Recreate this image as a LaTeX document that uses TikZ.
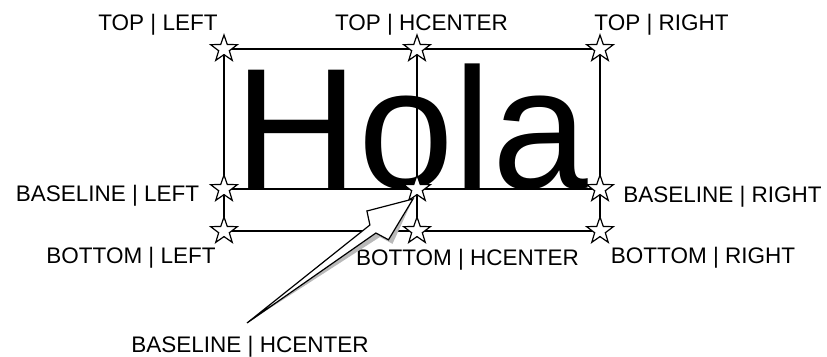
\documentclass[tikz,border=0pt]{standalone}
\usepackage{fontspec}
\setmainfont{Liberation Sans}
\usetikzlibrary{shapes.geometric}
\begin{document}
\begin{tikzpicture}[x=1pt,y=-1pt,
  boxline/.style={line width=1.2pt, black},
  corner/.style={star, star points=5, star point ratio=2.5, minimum size=28pt,
    inner sep=0pt, draw=black, fill=white, line width=1.2pt},
  lbl/.style={anchor=base, inner sep=0pt, font=\fontsize{22.5}{27}\selectfont},
  bigtext/.style={anchor=base, inner sep=0pt, font=\fontsize{172}{200}\selectfont}]
\useasboundingbox (0,0) rectangle (827,356);
% reference points
\coordinate (TL) at (224,49);
\coordinate (TC) at (417,49);
\coordinate (TR) at (600,49);
\coordinate (BL) at (224,189);
\coordinate (BC) at (417,189);
\coordinate (BR) at (600,189);
\coordinate (OL) at (224,231);
\coordinate (OC) at (417,231);
\coordinate (OR) at (600,231);
% text
\node[bigtext] (hola) at (411,188) {Hola};
% box lines
\draw[boxline] (TL) -- (TR);
\draw[boxline] (BL) -- (BR);
\draw[boxline] (OL) -- (OR);
\draw[boxline] (TL) -- (OL);
\draw[boxline] (TC) -- (OC);
\draw[boxline] (TR) -- (OR);
% stars
\foreach \p in {TL,TC,TR,BL,BC,BR,OL,OC,OR}
  \node[corner] (s\p) at (\p) {};
% labels
\node[lbl] (lTL) at (158,30) {TOP | LEFT};
\node[lbl] (lTC) at (421.5,30) {TOP | HCENTER};
\node[lbl] (lTR) at (661.5,30) {TOP | RIGHT};
\node[lbl] (lBL) at (107.5,201) {BASELINE | LEFT};
\node[lbl] (lBR) at (722.5,202) {BASELINE | RIGHT};
\node[lbl] (lOL) at (131,263) {BOTTOM | LEFT};
\node[lbl] (lOC) at (467.5,265) {BOTTOM | HCENTER};
\node[lbl] (lOR) at (703,263) {BOTTOM | RIGHT};
\node[lbl] (lBC) at (250,352) {BASELINE | HCENTER};
% block arrow with shadow
\coordinate (tip) at (413,199);
\coordinate (tail) at (247,323);
\fill[gray!55, shift={(4,4)}] (tip) -- (366.9,211.0) -- (369.9,225.0) -- (tail)
  -- (375.9,233.0) -- (388.5,239.8) -- cycle;
\draw[line width=1.2pt, fill=white, line join=miter] (tip) -- (366.9,211.0) -- (369.9,225.0) -- (tail)
  -- (375.9,233.0) -- (388.5,239.8) -- cycle;
\end{tikzpicture}
\end{document}
